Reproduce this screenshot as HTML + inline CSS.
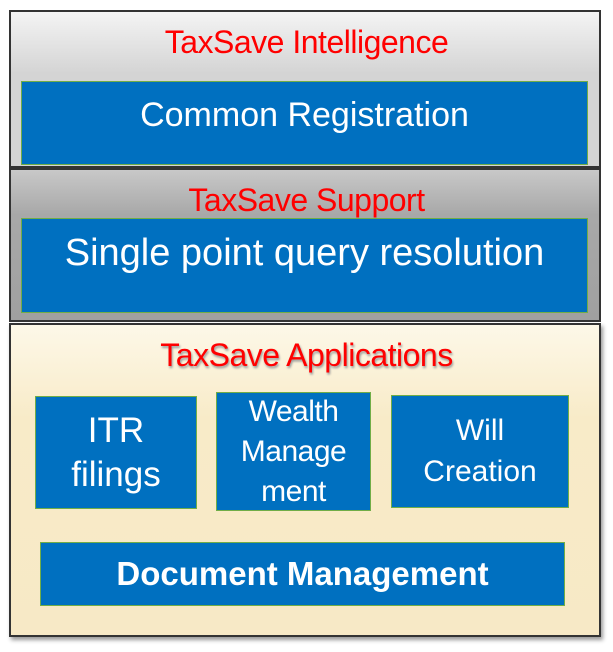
<!DOCTYPE html>
<html><head><style>
body{margin:0;width:613px;height:652px;background:#fff;position:relative;overflow:hidden;font-family:"Liberation Sans",sans-serif}
.p{position:absolute;left:9px;width:592px;border:2px solid #333;box-sizing:border-box}
.t{position:absolute;left:0;width:100%;text-align:center;color:#f00;font-size:32px;letter-spacing:-0.5px;white-space:nowrap;line-height:36px}
.b{position:absolute;background:#0070c0;border:1px solid #70ad47;box-sizing:border-box;color:#fff;text-align:center;display:flex;align-items:center;justify-content:center;line-height:1.3;white-space:nowrap}
</style></head><body>
<div class="p" style="top:10px;height:158px;background:linear-gradient(#f4f4f4,#d4d4d4 40%,#d4d4d4);"></div>
<div class="t" style="top:24px">TaxSave Intelligence</div>
<div class="b" style="left:21px;top:81px;width:567px;height:84px;font-size:34px;align-items:flex-start;padding-top:11px">Common Registration</div>

<div class="p" style="top:168px;height:154px;background:linear-gradient(#c8c8c8,#a8a8a8 30%,#a0a0a0);"></div>
<div class="t" style="top:182px">TaxSave Support</div>
<div class="b" style="left:21px;top:218px;width:567px;height:95px;font-size:38px;align-items:flex-start;padding-top:10px">Single point query resolution</div>

<div class="p" style="top:323px;height:314px;background:linear-gradient(#fdf8e8,#f8ebc8 30%,#f7e9c6);box-shadow:2px 3px 4px #999"></div>
<div class="t" style="top:337px;text-shadow:1px 2px 2px #999">TaxSave Applications</div>
<div class="b" style="left:35px;top:396px;width:162px;height:113px;font-size:35px;line-height:1.25">ITR<br>filings</div>
<div class="b" style="left:216px;top:392px;width:155px;height:119px;font-size:30px;line-height:40px;letter-spacing:-0.5px">Wealth<br>Manage<br>ment</div>
<div class="b" style="left:391px;top:395px;width:178px;height:113px;font-size:30px;line-height:1.35">Will<br>Creation</div>
<div class="b" style="left:40px;top:542px;width:525px;height:64px;font-size:33px;font-weight:bold">Document Management</div>
</body></html>
